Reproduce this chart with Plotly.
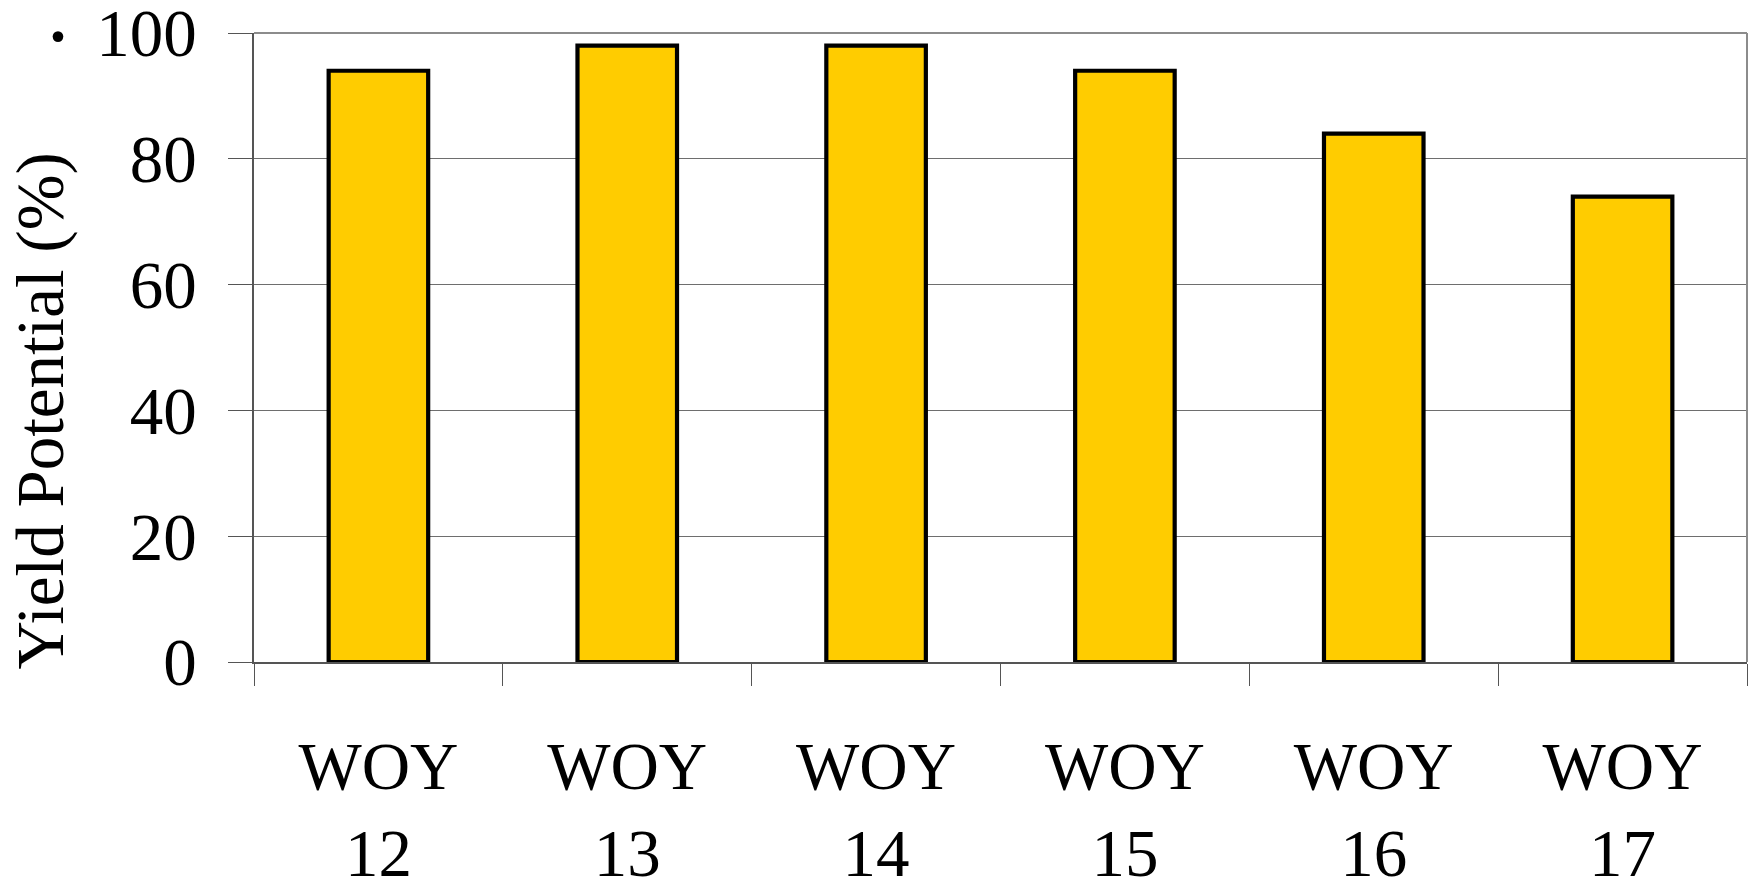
import plotly.graph_objects as go

# Yield potential by week of year
weeks = ["WOY<br>12", "WOY<br>13", "WOY<br>14", "WOY<br>15", "WOY<br>16", "WOY<br>17"]
yield_pct = [94, 98, 98, 94, 84, 74]
y_ticks = [0, 20, 40, 60, 80, 100]

W, H = 1750, 882
M_L, M_R, M_T, M_B = 254, 3, 33, 220
SERIF = "Liberation Serif, Times New Roman, serif"

fig = go.Figure(
    go.Bar(
        x=weeks,
        y=yield_pct,
        marker=dict(color="#FFCC00", line=dict(color="#000000", width=4.2)),
        width=0.4,
        hoverinfo="x+y",
    )
)

fig.update_layout(
    width=W,
    height=H,
    margin=dict(l=M_L, r=M_R, t=M_T, b=M_B, pad=0),
    paper_bgcolor="white",
    plot_bgcolor="white",
    showlegend=False,
    font=dict(family=SERIF, size=66, color="black"),
)

fig.update_xaxes(
    type="category",
    tickson="boundaries",
    ticks="outside",
    ticklen=22,
    tickwidth=1.2,
    tickcolor="#555555",
    showline=True,
    linecolor="#555555",
    linewidth=1.5,
    showgrid=False,
    automargin=False,
    tickfont=dict(family=SERIF, size=67, color="black"),
    ticklabelstandoff=45,
)

fig.update_yaxes(
    range=[0, 100],
    tickvals=y_ticks,
    ticks="outside",
    ticklen=24,
    tickwidth=1.2,
    tickcolor="#555555",
    showline=True,
    linecolor="#555555",
    linewidth=1.5,
    showgrid=True,
    gridcolor="#6e6e6e",
    gridwidth=1,
    zeroline=False,
    automargin=False,
    ticklabeloverflow="allow",
    tickfont=dict(family=SERIF, size=67, color="black"),
    ticklabelstandoff=18,
)

# Light frame along the top and right of the plot area
fig.add_shape(type="line", xref="paper", yref="paper", x0=0, x1=1, y0=1, y1=1,
              line=dict(color="#8c8c8c", width=2))
fig.add_shape(type="line", xref="paper", yref="paper", x0=1, x1=1, y0=0, y1=1,
              line=dict(color="#8c8c8c", width=2))

# Axis title
fig.add_annotation(
    text="Yield Potential (%)",
    xref="paper", yref="paper",
    x=-0.143, y=0.399,
    textangle=-90,
    showarrow=False,
    xanchor="center", yanchor="middle",
    font=dict(family=SERIF, size=67, color="black"),
)

# Small stray dot at the top left
fig.add_annotation(
    text="·",
    xref="paper", yref="paper",
    x=-0.131, y=0.994,
    showarrow=False,
    xanchor="center", yanchor="middle",
    font=dict(family=SERIF, size=90, color="black"),
)

fig.write_html("out.html")
